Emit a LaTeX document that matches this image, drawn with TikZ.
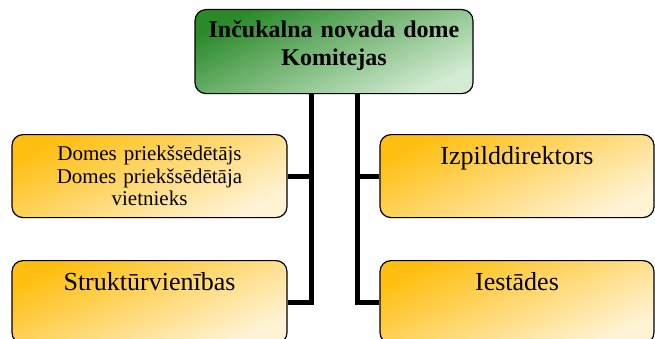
\documentclass[tikz,border=0pt]{standalone}
\usepackage{fontspec}
\setmainfont{Liberation Serif}
\usepackage{tikz}
\usetikzlibrary{positioning}

\definecolor{zalstums}{HTML}{2A8A2A}
\definecolor{vidzals}{HTML}{9ACB9A}
\definecolor{gaisizals}{HTML}{D2EBD2}
\definecolor{dzeltens}{HTML}{FFBE10}
\definecolor{viddz}{HTML}{FFDC94}
\definecolor{gaisidz}{HTML}{FFF3D6}

\tikzset{
  kaste/.style={draw=black, line width=1.2pt, rounded corners=11pt,
    inner xsep=0pt, inner ysep=0pt, align=center, anchor=north},
  zala/.style={kaste, top color=zalstums, middle color=vidzals, bottom color=gaisizals, shading angle=25},
  oranza/.style={kaste, top color=dzeltens, middle color=viddz, bottom color=gaisidz, shading angle=25},
  savienojums/.style={line width=5pt, black}
}

\begin{document}
\begin{tikzpicture}[x=1pt,y=1pt]
  \useasboundingbox (0,0) rectangle (655,338);
  \node[zala, text width=278pt, text height=28pt, text depth=56pt,
    font=\fontsize{24}{28}\selectfont\bfseries] (komiteja) at (334,329)
    {Inčukalna novada dome\\ Komitejas};
  \node[oranza, text width=275pt, text height=26pt, text depth=57pt,
    font=\fontsize{21}{22.5}\selectfont] (priekssedetajs) at (149.5,204)
    {Domes priekšsēdētājs\\ Domes priekšsēdētāja\\ vietnieks};
  \node[oranza, text width=275pt, text height=30pt, text depth=53pt,
    font=\fontsize{26}{30}\selectfont] (strukturvienibas) at (149.5,78)
    {Struktūrvienības};
  \node[oranza, text width=274pt, text height=30pt, text depth=53pt,
    font=\fontsize{26}{30}\selectfont] (izpilddirektors) at (517,204)
    {Izpilddirektors};
  \node[oranza, text width=274pt, text height=30pt, text depth=53pt,
    font=\fontsize{26}{30}\selectfont] (iestades) at (517,78)
    {Iestādes};
  \coordinate (kreisa) at (311,0);
  \coordinate (laba) at (357,0);
  \draw[savienojums] (komiteja.south -| kreisa) |- (strukturvienibas.east);
  \draw[savienojums] (priekssedetajs.east) -- (priekssedetajs.east -| kreisa);
  \draw[savienojums] (komiteja.south -| laba) |- (iestades.west);
  \draw[savienojums] (izpilddirektors.west) -- (izpilddirektors.west -| laba);
\end{tikzpicture}
\end{document}
